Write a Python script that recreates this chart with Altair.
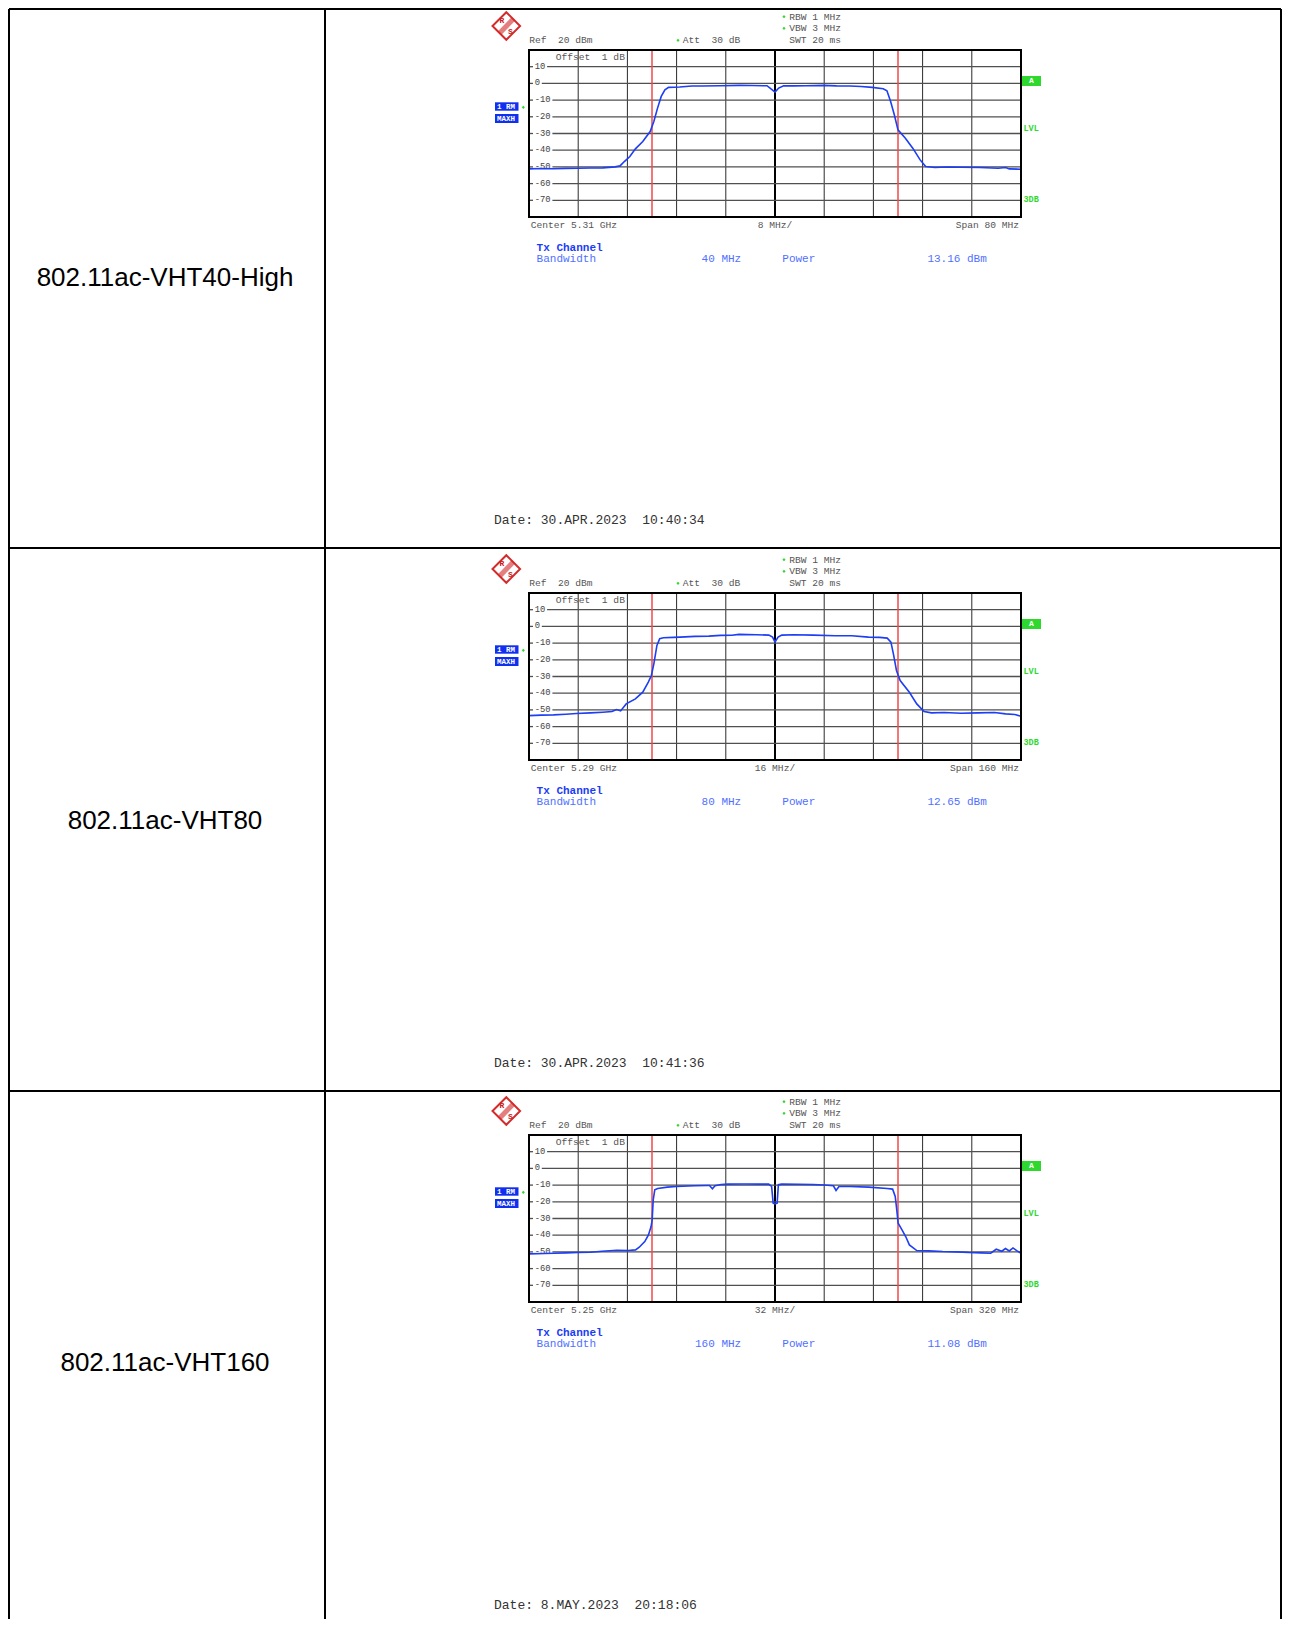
import altair as alt
import pandas as pd

# ---------------- data ----------------
row_labels = ["802.11ac-VHT40-High", "802.11ac-VHT80", "802.11ac-VHT160"]
center_ghz = ["5.31", "5.29", "5.25"]
span_mhz = [80, 160, 320]
div_mhz = [8, 16, 32]
chan_bw_mhz = [40, 80, 160]
chan_power = ["13.16 dBm", "12.65 dBm", "11.08 dBm"]
dates = ["30.APR.2023  10:40:34", "30.APR.2023  10:41:36", "8.MAY.2023  20:18:06"]
level_ticks = [10, 0, -10, -20, -30, -40, -50, -60, -70]

freq_1 = [-40, -38, -36, -34, -32, -30, -28, -27, -26, -25.2, -24.5, -23.6, -22.7, -21.5,
          -20.3, -19.7, -19.1, -18.5, -17.9, -17.3, -15.5, -13.5, -11.9, -9, -5.8, -3.7,
          -1.3, -0.7, 0, 0.6, 1.4, 3, 5, 8, 10, 12.2, 14, 15.8, 17.6, 18.2, 18.8, 19.4,
          20, 21.2, 22.4, 23.6, 24.5, 26, 28, 30.3, 33.3, 36.3, 37.5, 38.1, 40]
level_1 = [-51.2, -51.0, -51.1, -50.9, -50.8, -50.7, -50.6, -50.3, -50.0, -49.4, -46.8,
           -43.8, -39.2, -34.8, -28.8, -22.8, -14.8, -7.8, -3.8, -2.4, -2.2, -1.6, -1.6,
           -1.4, -1.2, -1.3, -1.4, -3.2, -5.2, -2.8, -1.4, -1.5, -1.4, -1.2, -1.5, -1.6,
           -1.9, -2.4, -3.2, -4.4, -10.8, -18.8, -27.8, -32.8, -38.8, -45.8, -49.8, -50.4,
           -50.1, -50.2, -50.4, -50.8, -50.4, -51.2, -51.4]

freq_2 = [-80, -76, -72, -68, -64.6, -60, -56, -53, -51.5, -50.2, -48.4, -45.4, -43, -41.2,
          -40.2, -39.4, -38.4, -37.5, -36.3, -33, -30.9, -26, -21.5, -17.7, -14, -11.7, -6,
          -2, -0.8, 0, 1, 2.2, 6, 12.4, 19.6, 25, 30.4, 34, 36.5, 37.7, 38.6, 39.5, 40.7,
          43.7, 46.1, 48.5, 50.9, 55, 60.5, 66, 71.4, 75, 78, 80]
level_2 = [-53.4, -53.1, -53.0, -52.6, -52.2, -51.8, -51.4, -51.0, -49.8, -50.6, -46.4,
           -43.4, -39.4, -33.4, -29.4, -22.4, -11.4, -7.4, -6.8, -6.6, -6.4, -6.0, -5.8,
           -5.4, -5.3, -4.8, -5.0, -5.2, -6.4, -9.4, -6.4, -5.2, -5.0, -5.2, -5.6, -5.6,
           -6.4, -6.6, -7.0, -9.4, -17.4, -26.4, -32.4, -39.4, -46.4, -51.0, -51.8, -51.6,
           -52.0, -51.8, -51.6, -52.4, -52.8, -53.8]

freq_3 = [-160, -150, -143.7, -136, -128, -120, -112.4, -102.8, -95.5, -90.7, -88.3, -84.7,
          -82.3, -80.6, -79.9, -79.2, -78.2, -76.3, -70, -64.3, -52.2, -44, -42.6, -40.7,
          -39, -35, -30.6, -20, -10, -4.1, -2.2, -1.2, 0, 1.4, 2.2, 4.3, 15, 24.8, 32, 38,
          39.7, 41.6, 48.9, 60.9, 72.9, 76.5, 78.2, 79.2, 80.1, 82.6, 85, 87.4, 92.2, 100,
          109, 118, 125.9, 134, 140.3, 143.9, 147.5, 149.9, 152.4, 154.8, 157.2, 160]
level_3 = [-51.2, -51.0, -50.8, -50.6, -50.4, -50.2, -49.6, -49.0, -49.2, -48.8, -47.2,
           -43.8, -39.8, -34.8, -30.8, -18.8, -12.8, -12.0, -11.2, -10.8, -10.4, -10.2,
           -10.2, -12.2, -10.4, -9.6, -9.4, -9.3, -9.4, -9.4, -10.8, -20.8, -21.2, -20.8,
           -9.8, -9.4, -9.5, -9.6, -9.9, -10.4, -13.2, -10.8, -10.8, -11.2, -12.0, -12.4,
           -16.8, -24.8, -32.8, -36.8, -40.8, -45.8, -49.2, -49.4, -49.8, -50.0, -50.4,
           -50.6, -50.8, -48.4, -49.6, -48.0, -49.4, -47.6, -49.2, -50.8]

freqs = [freq_1, freq_2, freq_3]
levels = [level_1, level_2, level_3]

# ---------------- layout / style ----------------
W = 1274
H = 1611
ROW_OY = [0, 543, 1085]
ROW_TOP = [1, 540, 1083]
X_RIGHT = 1273
FX0, FX1, FY0, FY1 = 521, 1013, 42, 209
MONO = "Liberation Mono"
GREY = "#555555"
BLUE_TXT = "#1c3df5"
BLUE_LT = "#5070ff"
GREEN = "#2fd82f"
RED = "#f04848"
TRACE = "#1d3ef2"

one = pd.DataFrame({"k": [0]})


def nb(s):
    return s.replace(" ", "\u00a0")


def txt(x, y, s, size=9.6, color=GREY, align="left", weight="normal", font=MONO):
    return alt.Chart(one).mark_text(
        text=nb(s), fontSize=size, color=color, align=align, baseline="middle",
        font=font, fontWeight=weight
    ).encode(x=alt.value(x), y=alt.value(y))


def seg(x1, x2, y1, y2, color="black", w=2, opacity=1.0):
    return alt.Chart(one).mark_rule(color=color, strokeWidth=w, opacity=opacity).encode(
        x=alt.value(x1), x2=alt.value(x2), y=alt.value(y1), y2=alt.value(y2))


def box(x1, x2, y1, y2, fill):
    return alt.Chart(one).mark_rect(color=fill).encode(
        x=alt.value(x1), x2=alt.value(x2), y=alt.value(y1), y2=alt.value(y2))


def star(x, y):
    return alt.Chart(one).mark_point(shape="diamond", filled=True, size=10, color=GREEN,
                                     opacity=1).encode(x=alt.value(x), y=alt.value(y))


def row_layers(i):
    oy = ROW_OY[i]
    half = span_mhz[i] / 2
    xs = alt.Scale(domain=[-half, half], range=[FX0, FX1], nice=False, zero=False)
    ys = alt.Scale(domain=[-80, 20], range=[FY1 + oy, FY0 + oy], nice=False, zero=False)

    def X(f):
        return alt.X(f, type="quantitative", scale=xs, axis=None)

    def Y(f):
        return alt.Y(f, type="quantitative", scale=ys, axis=None)

    L = []
    # row label
    L.append(txt(157, 269.8 + oy, row_labels[i], size=26, color="black", align="center",
                 font="Liberation Sans"))

    # vertical grid
    vg = pd.DataFrame({"g": [-half + k * span_mhz[i] / 10 for k in range(1, 10) if k != 5]})
    L.append(alt.Chart(vg).mark_rule(color="#2a2a2a", strokeWidth=1).encode(
        x=X("g"), y=alt.value(FY0 + oy), y2=alt.value(FY1 + oy)))
    L.append(alt.Chart(pd.DataFrame({"g": [0]})).mark_rule(color="black", strokeWidth=2).encode(
        x=X("g"), y=alt.value(FY0 + oy), y2=alt.value(FY1 + oy)))

    # horizontal grid, starting after the level labels
    hg = pd.DataFrame({"v": level_ticks, "t": [str(v) for v in level_ticks]})
    hg["n"] = hg["t"].str.len()
    for n in (1, 2, 3):
        sub = hg[hg["n"] == n]
        L.append(alt.Chart(sub).mark_rule(color="#505050", strokeWidth=1.3).encode(
            y=Y("v"), x=alt.value(527 + 5.3 * n + 1.5), x2=alt.value(FX1)))
    L.append(alt.Chart(hg).mark_rule(color="#505050", strokeWidth=1.3).encode(
        y=Y("v"), x=alt.value(FX0), x2=alt.value(FX0 + 4)))
    L.append(alt.Chart(hg).mark_text(align="left", baseline="middle", fontSize=8.8,
                                     font=MONO, color="#444444", dy=-1).encode(
        y=Y("v"), x=alt.value(526.8), text=alt.Text("t:N")))

    # channel limits
    bw = pd.DataFrame({"b": [-chan_bw_mhz[i] / 2, chan_bw_mhz[i] / 2]})
    L.append(alt.Chart(bw).mark_rule(color=RED, strokeWidth=1.5).encode(
        x=X("b"), y=alt.value(FY0 + oy), y2=alt.value(FY1 + oy)))

    # trace
    tr = pd.DataFrame({"f": freqs[i], "p": levels[i]})
    L.append(alt.Chart(tr).mark_line(color=TRACE, strokeWidth=1.6).encode(x=X("f"), y=Y("p")))

    # frame
    L.append(alt.Chart(one).mark_rect(fillOpacity=0, stroke="black", strokeWidth=2).encode(
        x=alt.value(FX0), x2=alt.value(FX1), y=alt.value(FY0 + oy), y2=alt.value(FY1 + oy)))

    # logo
    L.append(alt.Chart(one).mark_point(shape="diamond", filled=True, size=760, fill="white",
                                       stroke="#d42a2a", strokeWidth=2, opacity=1).encode(
        x=alt.value(498.3), y=alt.value(18 + oy)))
    L.append(seg(505.5, 491.5, 10.8 + oy, 25.2 + oy, color="#d42a2a", w=5, opacity=0.6))
    L.append(txt(494, 12.5 + oy, "R", size=8, color="#c62020", align="center", weight="bold"))
    L.append(txt(502.5, 24 + oy, "S", size=8, color="#c62020", align="center", weight="bold"))

    # header
    L.append(star(776, 8.7 + oy))
    L.append(txt(781.3, 8.7 + oy, "RBW 1 MHz"))
    L.append(star(776, 20.3 + oy))
    L.append(txt(781.3, 20.3 + oy, "VBW 3 MHz"))
    L.append(txt(781.3, 32.3 + oy, "SWT 20 ms"))
    L.append(txt(521.2, 32.3 + oy, "Ref  20 dBm"))
    L.append(star(670, 32.3 + oy))
    L.append(txt(674.7, 32.3 + oy, "Att  30 dB"))
    L.append(txt(547.8, 48.7 + oy, "Offset  1 dB"))

    # right-side indicators
    L.append(box(1014, 1033, 68 + oy, 78 + oy, GREEN))
    L.append(txt(1023.5, 73 + oy, "A", size=8, color="white", align="center", weight="bold"))
    L.append(txt(1015.5, 119.7 + oy, "LVL", size=8.5, color=GREEN, weight="bold"))
    L.append(txt(1015.5, 191 + oy, "3DB", size=8.5, color=GREEN, weight="bold"))

    # left trace indicators
    L.append(box(487, 510.5, 94.3 + oy, 102.7 + oy, "#1030f0"))
    L.append(box(487, 510.5, 106 + oy, 115 + oy, "#1030f0"))
    L.append(txt(489, 98.5 + oy, "1 RM", size=7.5, color="white", weight="bold"))
    L.append(txt(489, 110.5 + oy, "MAXH", size=7.5, color="white", weight="bold"))
    L.append(star(515.3, 99.3 + oy))

    # footer of the screen
    L.append(txt(522.7, 217 + oy, "Center " + center_ghz[i] + " GHz"))
    L.append(txt(767, 217 + oy, str(div_mhz[i]) + " MHz/", align="center"))
    L.append(txt(1011, 217 + oy, "Span " + str(span_mhz[i]) + " MHz", align="right"))

    # channel power table
    L.append(txt(528.6, 239.7 + oy, "Tx Channel", size=11, color=BLUE_TXT, weight="bold"))
    L.append(txt(528.6, 250.7 + oy, "Bandwidth", size=11, color=BLUE_LT))
    L.append(txt(733.2, 250.7 + oy, str(chan_bw_mhz[i]) + " MHz", size=11, color=BLUE_LT,
                 align="right"))
    L.append(txt(774.3, 250.7 + oy, "Power", size=11, color=BLUE_LT))
    L.append(txt(978.8, 250.7 + oy, chan_power[i], size=11, color=BLUE_LT, align="right"))

    # date
    L.append(txt(486, 512 + oy, "Date: " + dates[i], size=13, color="#333333"))
    return L


layers = []
# table borders
for t in ROW_TOP:
    layers.append(seg(1, X_RIGHT, t, t))
for x in (1, 317, X_RIGHT):
    layers.append(seg(x, x, 1, H))
for i in range(3):
    layers += row_layers(i)

chart = alt.layer(*layers).resolve_scale(x="independent", y="independent").properties(
    width=W, height=H, padding=0, autosize=alt.AutoSizeParams(type="none")
).configure_view(stroke=None)

chart.save("out.html", embed_options={"renderer": "svg", "actions": False})
